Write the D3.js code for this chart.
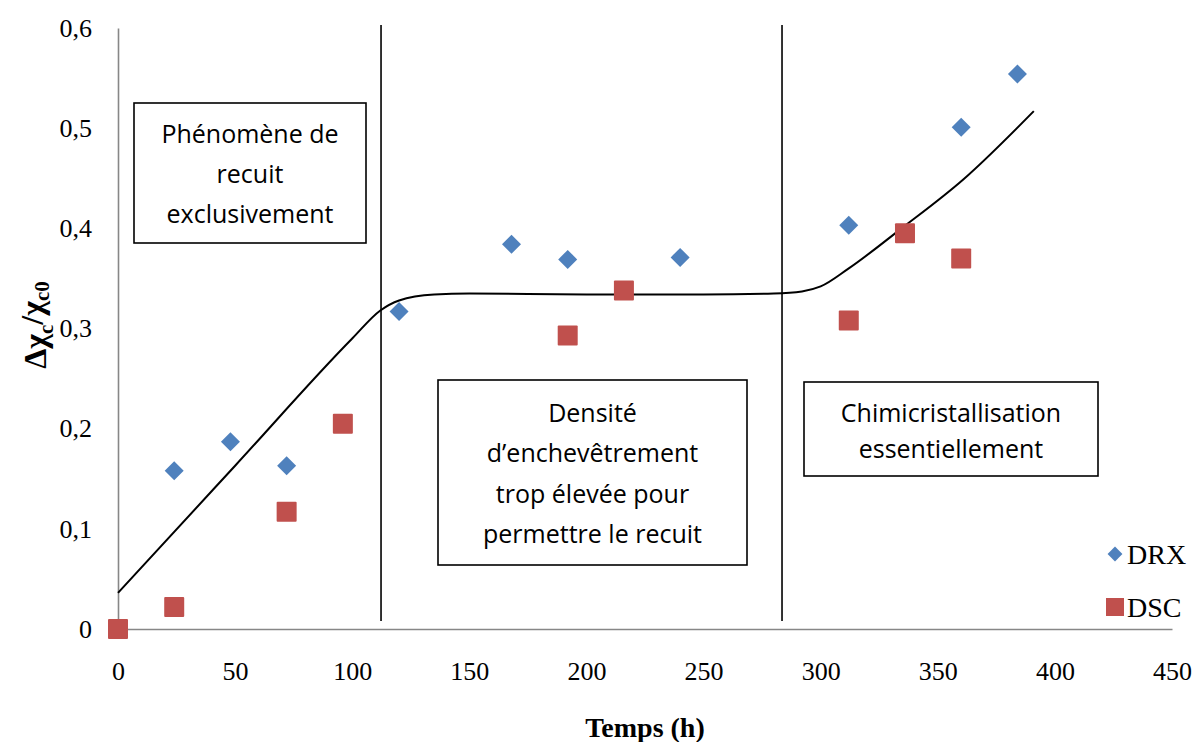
<!DOCTYPE html>
<html><head><meta charset="utf-8">
<script src="https://cdn.jsdelivr.net/npm/d3@7"></script>
<style>body{margin:0;background:#fff}svg{display:block}</style>
</head><body><svg id="c" width="1198" height="742"></svg>
<script>
// ---- data ----
const drxHours = [24, 48, 72, 120, 168, 192, 240, 312, 360, 384];
const drxValues = [0.158, 0.187, 0.163, 0.317, 0.384, 0.369, 0.371, 0.403, 0.501, 0.554];
const dscHours = [0, 24, 72, 96, 192, 216, 312, 336, 360];
const dscValues = [0.000, 0.022, 0.117, 0.205, 0.293, 0.338, 0.308, 0.395, 0.370];
const trendHours = [0, 50, 100, 112, 120, 135, 150, 200, 250, 280, 292, 300, 312, 334, 361, 391];
const trendValues = [0.036, 0.163, 0.290, 0.318, 0.328, 0.334, 0.335, 0.334, 0.334, 0.335, 0.337, 0.342, 0.360, 0.399, 0.449, 0.517];
const phaseBounds = [112.3, 283.5];
const xTicks = [0, 50, 100, 150, 200, 250, 300, 350, 400, 450];
const yTicks = [0, 0.1, 0.2, 0.3, 0.4, 0.5, 0.6];
const seriesNames = ["DRX", "DSC"];
const boxTexts = [
  ["Phénomène de", "recuit", "exclusivement"],
  ["Densité", "d\u2019enchevêtrement", "trop élevée pour", "permettre le recuit"],
  ["Chimicristallisation", "essentiellement"]
];

// ---- layout ----
const svg = d3.select("#c");
const x = d3.scaleLinear().domain([0, 450]).range([118, 1172]);
const y = d3.scaleLinear().domain([0, 0.6]).range([629, 28]);
const blue = "#4F81BD", red = "#C0504D";
const serif = "'Liberation Serif','Times New Roman',serif";
const sans = "'Open Sans','Noto Sans',sans-serif";

// axes
const xAxis = svg.append("g").attr("transform", `translate(0,${y(0)})`)
  .call(d3.axisBottom(x).tickValues(xTicks).tickSize(0).tickPadding(32).tickFormat(d3.format("d")));
const yAxis = svg.append("g").attr("transform", `translate(${x(0)},0)`)
  .call(d3.axisLeft(y).tickValues(yTicks).tickSize(0).tickPadding(26)
    .tickFormat(d => d === 0 ? "0" : d3.format(".1f")(d).replace(".", ",")));
[xAxis, yAxis].forEach(a => {
  a.select(".domain").attr("stroke", "#878787").attr("stroke-width", 1.6);
  a.selectAll("text").attr("font-family", serif).attr("font-size", 26).attr("fill", "#000");
});
xAxis.selectAll("text").attr("dy", "0.71em").attr("y", 33);

// phase boundaries
svg.append("g").selectAll("line").data(phaseBounds).join("line")
  .attr("x1", d => x(d)).attr("x2", d => x(d))
  .attr("y1", 25).attr("y2", 621)
  .attr("stroke", "#000").attr("stroke-width", 1.6);

// annotation boxes
const boxes = [
  {x0: 134, y0: 103, w: 232, h: 140, cy: 134, lh: 40},
  {x0: 438, y0: 380, w: 309, h: 185, cy: 413, lh: 40.5},
  {x0: 804, y0: 382, w: 294, h: 94, cy: 413, lh: 36}
];
boxes.forEach((b, i) => {
  svg.append("rect").attr("x", b.x0).attr("y", b.y0).attr("width", b.w).attr("height", b.h)
    .attr("fill", "#fff").attr("stroke", "#000").attr("stroke-width", 1.6);
  svg.append("g").selectAll("text").data(boxTexts[i]).join("text")
    .attr("x", b.x0 + b.w / 2).attr("y", (d, j) => b.cy + j * b.lh)
    .attr("dy", "0.35em").attr("text-anchor", "middle")
    .attr("font-family", sans).attr("font-size", 25).attr("fill", "#000").text(d => d);
});

// trend line
svg.append("path")
  .datum(trendHours.map((h, i) => [h, trendValues[i]]))
  .attr("d", d3.line().x(d => x(d[0])).y(d => y(d[1])).curve(d3.curveMonotoneX))
  .attr("fill", "none").attr("stroke", "#000").attr("stroke-width", 2);

// DRX diamonds
const dsym = d3.symbol().type(d3.symbolDiamond2).size(230);
svg.append("g").selectAll("path").data(drxHours.map((h, i) => [h, drxValues[i]])).join("path")
  .attr("d", dsym).attr("transform", d => `translate(${x(d[0])},${y(d[1])})`).attr("fill", blue);

// DSC squares
svg.append("g").selectAll("rect").data(dscHours.map((h, i) => [h, dscValues[i]])).join("rect")
  .attr("x", d => x(d[0]) - 10).attr("y", d => y(d[1]) - 10)
  .attr("width", 20).attr("height", 20).attr("rx", 1).attr("fill", red);

// legend
const leg = svg.append("g");
leg.append("path").attr("d", d3.symbol().type(d3.symbolDiamond2).size(140)())
  .attr("transform", "translate(1115,554)").attr("fill", blue);
leg.append("rect").attr("x", 1106).attr("y", 598).attr("width", 18).attr("height", 18).attr("fill", red);
leg.selectAll("text").data(seriesNames).join("text")
  .attr("x", 1127).attr("y", (d, i) => 554 + i * 53).attr("dy", "0.35em")
  .attr("font-family", serif).attr("font-size", 28).attr("fill", "#000").text(d => d);

// axis titles
svg.append("text").attr("x", 645).attr("y", 727).attr("dy", "0.35em").attr("text-anchor", "middle")
  .attr("font-family", serif).attr("font-weight", "bold").attr("font-size", 28).text("Temps (h)");
const yt = svg.append("text").attr("transform", "translate(35,325) rotate(-90)")
  .attr("text-anchor", "middle").attr("dy", "0.35em")
  .attr("font-family", serif).attr("font-weight", "bold").attr("font-size", 32);
yt.append("tspan").text("\u0394\u03C7");
yt.append("tspan").attr("font-size", 21).attr("dy", "0.3em").text("c");
yt.append("tspan").attr("dy", "-0.3em").text("/\u03C7");
yt.append("tspan").attr("font-size", 21).attr("dy", "0.3em").text("c0");
</script></body></html>
